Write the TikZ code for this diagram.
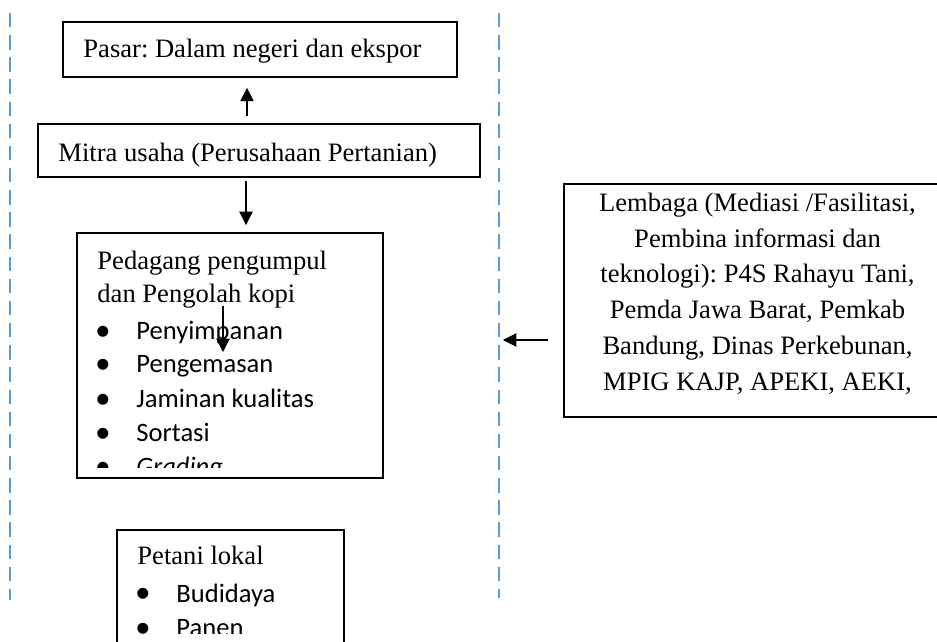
\documentclass[tikz,border=0pt]{standalone}
\usepackage{fontspec}
\setmainfont{Liberation Serif}
\newfontfamily\calibfont{Carlito}
\newfontfamily\bulfont{DejaVu Sans}
\usetikzlibrary{arrows.meta,fit}
\definecolor{guideblue}{RGB}{91,155,213}
\frenchspacing
\tikzset{
  box/.style={draw, line width=0.8pt, inner sep=0pt},
  txtline/.style={anchor=base west, inner sep=0pt, font=\fontsize{12}{14}\selectfont},
  midline/.style={anchor=base, inner sep=0pt, font=\fontsize{12}{14}\selectfont},
  bulitem/.style={anchor=base west, inner sep=0pt, font=\calibfont\fontsize{12}{14}\selectfont},
  bulmark/.style={anchor=center, inner sep=0pt, font=\bulfont\fontsize{6.5}{8}\selectfont},
  arr/.style={-{Triangle[length=6pt,width=6pt]}, line width=0.5pt},
  guide/.style={guideblue, line width=0.9pt, dash pattern=on 6.5pt off 3.5pt}
}
\begin{document}
\begin{tikzpicture}[x=0.4515pt,y=-0.4515pt]
\clip (0,0) rectangle (937,642);
% dashed guide lines
\coordinate (ltop) at (10,13);
\coordinate (lbot) at (10,600);
\coordinate (rtop) at (499,13);
\coordinate (rbot) at (499,598);
\draw[guide] (ltop) -- (lbot);
\draw[guide] (rtop) -- (rbot);

% boxes
\node[box, fit={(63,22) (457,77)}] (pasar) {};
\node[box, fit={(38,124) (480,177)}] (mitra) {};
\node[box, fit={(77,233) (383,478)}] (pedagang) {};
\node[box, fit={(117,530) (344,660)}] (petani) {};
\node[box, fit={(564,184) (951,417)}] (lembaga) {};

\node[txtline] (pasartxt) at (83,58) {Pasar: Dalam negeri dan ekspor};
\node[txtline] (mitratxt) at (58,162) {Mitra usaha (Perusahaan Pertanian)};

% pedagang, text runs out of the box
\begin{scope}
  \clip (77,233) rectangle (383,468);
  \node[txtline] (pg1) at (97,270) {Pedagang pengumpul};
  \node[txtline] (pg2) at (97,303) {dan Pengolah kopi};
  \node[bulmark] (b1) at (103,332) {●};
  \node[bulitem] (i1) at (136,340) {Penyimpanan};
  \node[bulmark] (b2) at (103,365) {●};
  \node[bulitem] (i2) at (136,373) {Pengemasan};
  \node[bulmark] (b3) at (103,400) {●};
  \node[bulitem] (i3) at (136,408) {Jaminan kualitas};
  \node[bulmark] (b4) at (103,434) {●};
  \node[bulitem] (i4) at (136,442) {Sortasi};
  \node[bulmark] (b5) at (103,468) {●};
  \node[bulitem] (i5) at (136,476) {\itshape Grading};
\end{scope}

% petani
\begin{scope}
  \clip (117,530) rectangle (344,633);
  \node[txtline] (pt1) at (137,565) {Petani lokal};
  \node[bulmark] (b6) at (143,594) {●};
  \node[bulitem] (i6) at (176,602) {Budidaya};
  \node[bulmark] (b7) at (143,629) {●};
  \node[bulitem] (i7) at (176,637) {Panen};
\end{scope}

% lembaga
\node[midline] (lb1) at (757.5,212) {Lembaga (Mediasi /Fasilitasi,};
\node[midline] (lb2) at (757.5,248) {Pembina informasi dan};
\node[midline] (lb3) at (757.5,283) {teknologi): P4S Rahayu Tani,};
\node[midline] (lb4) at (757.5,319) {Pemda Jawa Barat, Pemkab};
\node[midline] (lb5) at (757.5,355) {Bandung, Dinas Perkebunan,};
\node[midline] (lb6) at (757.5,391) {MPIG KAJP, APEKI, AEKI,};

% arrows
\coordinate (upx) at (247,0);
\coordinate (downx) at (246,0);
\draw[arr, shorten <=3.2pt, shorten >=4.5pt] (mitra.north -| upx) -- (pasar.south -| upx);
\draw[arr, shorten <=1.4pt, shorten >=3.2pt] (mitra.south -| downx) -- (pedagang.north -| downx);
\coordinate (kopi) at (223,306);
\coordinate (simpan) at (223,352);
\draw[arr] (kopi) -- (simpan);
\coordinate (lemin) at (499,340);
\draw[arr, shorten <=6.8pt, shorten >=1.8pt] (lembaga.west |- lemin) -- (lemin);
\end{tikzpicture}
\end{document}
